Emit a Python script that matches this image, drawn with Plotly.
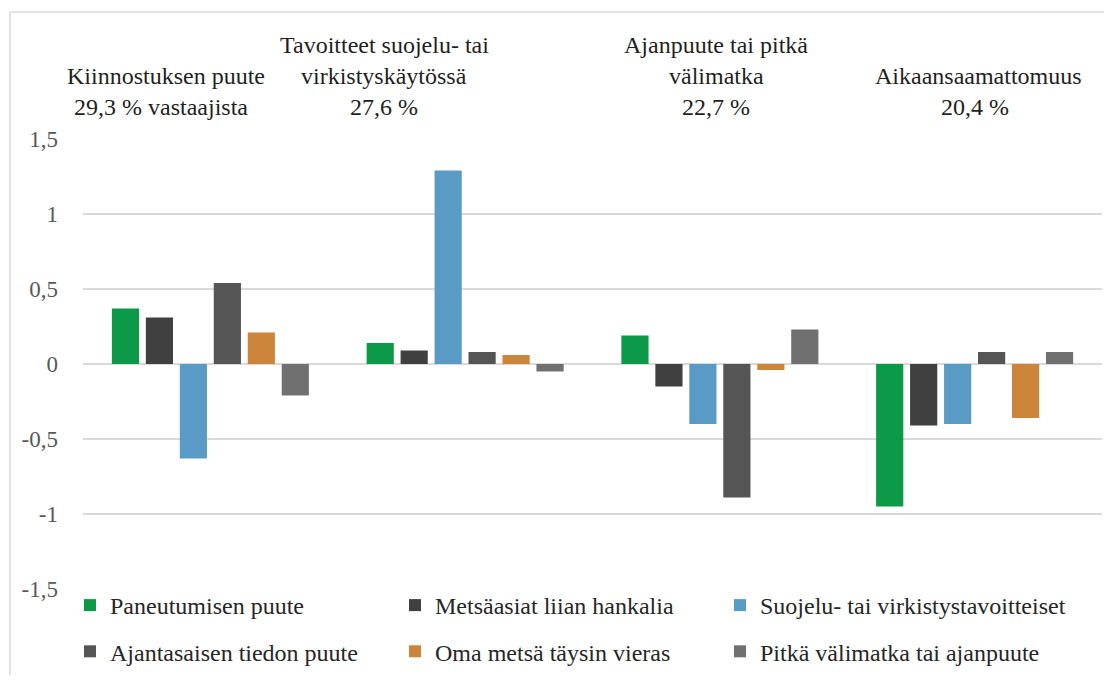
import plotly.graph_objects as go

categories = ["Kiinnostuksen puute", "Tavoitteet suojelu- tai virkistyskäytössä",
              "Ajanpuute tai pitkä välimatka", "Aikaansaamattomuus"]
cat_label_lines = [
    ["Kiinnostuksen puute", "29,3 % vastaajista"],
    ["Tavoitteet suojelu- tai", "virkistyskäytössä", "27,6 %"],
    ["Ajanpuute tai pitkä", "välimatka", "22,7 %"],
    ["Aikaansaamattomuus", "20,4 %"],
]

series_names = ["Paneutumisen puute", "Metsäasiat liian hankalia",
                "Suojelu- tai virkistystavoitteiset", "Ajantasaisen tiedon puute",
                "Oma metsä täysin vieras", "Pitkä välimatka tai ajanpuute"]

paneutumisen = [0.37, 0.14, 0.19, -0.95]
metsaasiat = [0.31, 0.09, -0.15, -0.41]
suojelu = [-0.63, 1.29, -0.40, -0.40]
ajantasaisen = [0.54, 0.08, -0.89, 0.08]
oma_metsa = [0.21, 0.06, -0.04, -0.36]
pitka = [-0.21, -0.05, 0.23, 0.08]

tick_vals = [-1.5, -1, -0.5, 0, 0.5, 1, 1.5]
tick_text = ["-1,5", "-1", "-0,5", "0", "0,5", "1", "1,5"]

values = [paneutumisen, metsaasiat, suojelu, ajantasaisen, oma_metsa, pitka]
colors = ["#0C9A48", "#404040", "#5A9BC6", "#555555", "#CC853A", "#707070"]
legend_ids = ["legend", "legend2", "legend3", "legend", "legend2", "legend3"]

FONT = "Liberation Serif"

fig = go.Figure()
for i, (name, vals, col, lg) in enumerate(zip(series_names, values, colors, legend_ids)):
    fig.add_trace(go.Bar(
        x=categories, y=vals, name=name,
        marker=dict(color=col, line=dict(width=0)),
        legend=lg, legendgroup="g%d" % i,
    ))

# page has an 8px body margin: figure px = page px - 8
# zero margins; plot area placed via axis domains (figure px): x 75..1094, y 131..581
W, H = 1096, 667
PX0, PX1, PY0, PY1 = 75, 1094, 131, 581

def px(x):
    return x / W

def py(y):
    return (H - y) / H

annotations = []
label_x = [[158, 153], [376, 376, 376], [708, 708, 708], [970, 967]]
line_y_3 = [37, 68, 99]
line_y_2 = [68, 99]
for lines, xs in zip(cat_label_lines, label_x):
    ys = line_y_3 if len(lines) == 3 else line_y_2
    for txt, xc, yc in zip(lines, xs, ys):
        annotations.append(dict(
            x=px(xc), y=py(yc), xref="paper", yref="paper",
            text=txt, showarrow=False, xanchor="center", yanchor="middle",
            font=dict(family=FONT, size=24, color="#1f1f1f"),
        ))

legend_common = dict(
    orientation="v", xanchor="left", yanchor="top",
    yref="container", xref="container",
    font=dict(family=FONT, size=24, color="#262626"),
    bgcolor="rgba(0,0,0,0)", tracegroupgap=12, itemwidth=30,
    traceorder="grouped",
)

fig.update_layout(
    width=W, height=H, autosize=False,
    margin=dict(l=0, r=0, t=0, b=0, pad=0, autoexpand=False),
    paper_bgcolor="white", plot_bgcolor="white",
    barmode="group", bargap=0.2, bargroupgap=0.2,
    showlegend=True,
    legend=dict(x=px(62), y=py(575), **legend_common),
    legend2=dict(x=px(387), y=py(575), **legend_common),
    legend3=dict(x=px(712), y=py(575), **legend_common),
    xaxis=dict(domain=[px(PX0), px(PX1)], showticklabels=False, showgrid=False,
               zeroline=False, showline=False, ticks=""),
    yaxis=dict(domain=[py(PY1), py(PY0)], range=[-1.5, 1.5],
               tickvals=tick_vals, ticktext=tick_text,
               showgrid=True, gridcolor="#d9d9d9", gridwidth=1.5,
               zeroline=True, zerolinecolor="#d9d9d9", zerolinewidth=1.5,
               showline=False, ticks="", ticklabelstandoff=24,
               tickfont=dict(family=FONT, size=23, color="#595959")),
    annotations=annotations,
    shapes=[
        dict(type="line", xref="paper", yref="paper",
             x0=px(2), x1=px(1110), y0=py(4), y1=py(4),
             line=dict(color="#d9d9d9", width=1.5)),
        dict(type="line", xref="paper", yref="paper",
             x0=px(2), x1=px(2), y0=py(4), y1=py(700),
             line=dict(color="#d9d9d9", width=1.5)),
    ],
)

fig.write_html("out.html")
